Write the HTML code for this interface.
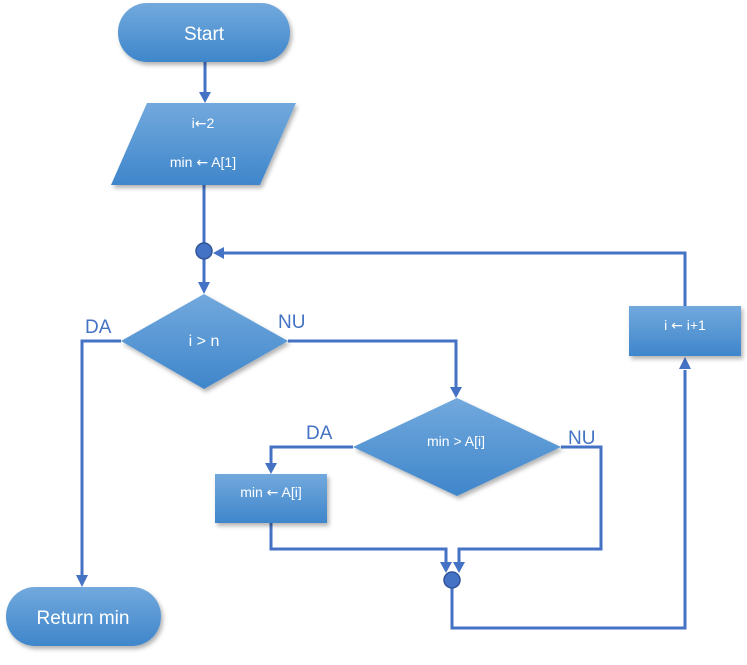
<!DOCTYPE html>
<html><head><meta charset="utf-8"><style>
body{margin:0;background:#fff;width:747px;height:660px;overflow:hidden}
text{font-family:"Liberation Sans",sans-serif;fill:#fff}
.ar{font-family:"DejaVu Sans",sans-serif}
.l{fill:none;stroke:#4472c4;stroke-width:3}
.lb{fill:#4472c4;font-size:19px}
</style></head><body>
<svg width="747" height="660" viewBox="0 0 747 660">
<defs>
<linearGradient id="g" x1="0" y1="0" x2="0" y2="1"><stop offset="0" stop-color="#72a9dd"/><stop offset="1" stop-color="#3f86cb"/></linearGradient>
<filter id="s" x="-10%" y="-10%" width="130%" height="140%"><feDropShadow dx="2" dy="3" stdDeviation="2" flood-color="#000" flood-opacity="0.3"/></filter>
</defs>
<g class="l">
<path d="M205 62 V94"/>
<path d="M204 185 V243"/>
<path d="M204 259 V284"/>
<path d="M685 306 V253 H222"/>
<path d="M121 341 H82 V576"/>
<path d="M288 341 H456 V388"/>
<path d="M353 447 H271 V464"/>
<path d="M271 523 V549 H446 V563"/>
<path d="M561 447 H601 V549 H459 V563"/>
<path d="M452 588 V628 H685 V370"/>
</g>
<g fill="#4472c4">
<path d="M199 92 L211 92 L205 103 Z"/>
<path d="M198 282 L210 282 L204 294 Z"/>
<path d="M224 247 L224 259 L213 253 Z"/>
<path d="M76 575 L88 575 L82 587 Z"/>
<path d="M450 387 L462 387 L456 398 Z"/>
<path d="M265 463 L277 463 L271 474 Z"/>
<path d="M440 562 L452 562 L446 573 Z"/>
<path d="M453 562 L465 562 L459 573 Z"/>
<path d="M679 369 L691 369 L685 357 Z"/>
</g>
<circle cx="204" cy="251" r="8" fill="#4472c4" stroke="#2f5597" stroke-width="1.5"/>
<circle cx="452" cy="580" r="8" fill="#4472c4" stroke="#2f5597" stroke-width="1.5"/>
<g fill="url(#g)" filter="url(#s)">
<rect x="118" y="3" width="172" height="59" rx="29"/>
<path d="M147 103 H296 L260 185 H111 Z"/>
<path d="M121 341 L204 294 L288 341 L204 389 Z"/>
<path d="M353 447 L457 398 L561 447 L457 496 Z"/>
<rect x="215" y="474" width="112" height="49"/>
<rect x="629" y="306" width="112" height="50"/>
<rect x="6" y="587" width="155" height="59" rx="29"/>
</g>
<text x="204" y="40" font-size="19" text-anchor="middle">Start</text>
<text x="203" y="128" font-size="14" text-anchor="middle">i<tspan class="ar">←</tspan>2</text>
<text x="203" y="167" font-size="14" text-anchor="middle">min <tspan class="ar">←</tspan> A[1]</text>
<text x="204" y="346" font-size="16" text-anchor="middle">i &gt; n</text>
<text x="456" y="446" font-size="14" text-anchor="middle">min &gt; A[i]</text>
<text x="271" y="497" font-size="14" text-anchor="middle">min <tspan class="ar">←</tspan> A[i]</text>
<text x="685" y="330" font-size="14" text-anchor="middle">i <tspan class="ar">←</tspan> i+1</text>
<text x="83" y="624" font-size="19" text-anchor="middle">Return min</text>
<text class="lb" x="85" y="333">DA</text>
<text class="lb" x="278" y="328">NU</text>
<text class="lb" x="306" y="439">DA</text>
<text class="lb" x="568" y="444">NU</text>
</svg>
</body></html>
